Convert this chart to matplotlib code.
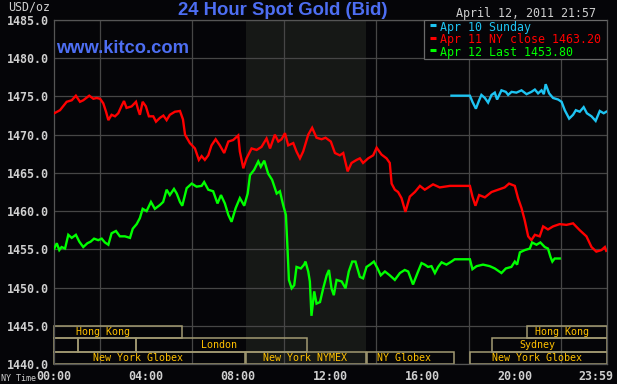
import matplotlib
matplotlib.use("Agg")
import matplotlib.pyplot as plt
from matplotlib.patches import Rectangle
from matplotlib.lines import Line2D

# ---------------- data (hours since 00:00 NY time, USD/oz) ----------------
red_t = [0.01, 0.26, 0.55, 0.77, 0.95, 1.13, 1.27, 1.53, 1.71, 1.85, 2.00, 2.14, 2.26, 2.36,
         2.50, 2.65, 2.79, 2.94, 3.04, 3.15, 3.37, 3.56, 3.66, 3.73, 3.85, 3.99, 4.12, 4.31,
         4.43, 4.60, 4.75, 4.89, 5.03, 5.25, 5.47, 5.60, 5.69, 5.90, 6.12, 6.29, 6.41, 6.55,
         6.70, 6.84, 7.02, 7.20, 7.39, 7.57, 7.78, 8.00, 8.07, 8.22, 8.36, 8.58, 8.80, 9.01,
         9.23, 9.38, 9.59, 9.74, 9.88, 10.03, 10.17, 10.39, 10.53, 10.68, 10.82, 11.04, 11.21,
         11.40, 11.62, 11.79, 12.02, 12.20, 12.41, 12.56, 12.75, 12.92, 13.14, 13.28, 13.42,
         13.64, 13.86, 14.01, 14.22, 14.44, 14.58, 14.66, 14.80, 14.94, 15.09, 15.26, 15.45,
         15.67, 15.89, 16.10, 16.46, 16.75, 17.19, 18.06, 18.17, 18.30, 18.46, 18.71, 19.00,
         19.28, 19.57, 19.76, 20.01, 20.15, 20.30, 20.44, 20.59, 20.73, 20.88, 21.09, 21.24,
         21.45, 21.67, 21.96, 22.25, 22.54, 22.83, 23.12, 23.34, 23.55, 23.77, 23.92, 23.98]
red_v = [1472.8, 1473.2, 1474.3, 1474.5, 1475.1, 1474.3, 1474.5, 1475.1, 1474.7, 1474.8, 1474.7,
         1474.1, 1473.0, 1471.9, 1472.6, 1472.4, 1472.8, 1473.8, 1474.4, 1473.5, 1473.7, 1474.3,
         1473.2, 1472.6, 1474.3, 1473.7, 1472.4, 1472.4, 1471.7, 1472.2, 1472.5, 1471.9, 1472.6,
         1473.0, 1473.1, 1472.0, 1470.0, 1468.9, 1468.2, 1466.7, 1467.2, 1466.7, 1467.3, 1468.6,
         1469.4, 1468.6, 1467.6, 1469.1, 1469.3, 1469.9, 1467.8, 1465.6, 1466.9, 1468.2, 1468.0,
         1468.4, 1469.5, 1468.2, 1470.0, 1469.1, 1469.4, 1470.2, 1468.6, 1468.9, 1467.8, 1466.9,
         1467.8, 1470.0, 1470.9, 1469.6, 1469.4, 1469.6, 1469.1, 1467.6, 1467.3, 1467.6, 1465.2,
         1466.3, 1466.7, 1466.9, 1466.3, 1466.9, 1467.3, 1468.3, 1467.4, 1466.9, 1466.3, 1463.6,
         1462.8, 1462.5, 1461.7, 1459.9, 1461.9, 1462.5, 1463.3, 1462.8, 1463.5, 1463.1, 1463.3,
         1463.3, 1461.9, 1460.7, 1462.1, 1461.8, 1462.5, 1462.8, 1463.1, 1463.6, 1463.3, 1461.7,
         1460.4, 1458.8, 1456.7, 1456.2, 1456.9, 1456.7, 1458.0, 1457.6, 1458.0, 1458.3, 1458.2,
         1458.4, 1457.5, 1456.7, 1455.3, 1454.7, 1454.9, 1455.3, 1454.8]

green_t = [0.01, 0.12, 0.23, 0.33, 0.48, 0.62, 0.77, 0.95, 1.10, 1.27, 1.45, 1.59, 1.74, 1.92,
           2.07, 2.21, 2.36, 2.50, 2.69, 2.86, 3.08, 3.30, 3.42, 3.59, 3.73, 3.85, 4.02, 4.21,
           4.38, 4.60, 4.74, 4.89, 5.03, 5.21, 5.33, 5.47, 5.57, 5.76, 5.98, 6.19, 6.41, 6.52,
           6.70, 6.91, 7.10, 7.25, 7.42, 7.57, 7.71, 7.89, 8.07, 8.26, 8.41, 8.51, 8.69, 8.87,
           8.98, 9.13, 9.30, 9.47, 9.67, 9.81, 9.95, 10.07, 10.14, 10.20, 10.32, 10.43, 10.53,
           10.72, 10.86, 10.92, 11.04, 11.11, 11.18, 11.30, 11.40, 11.55, 11.69, 11.84, 11.94,
           12.05, 12.15, 12.27, 12.49, 12.66, 12.80, 12.95, 13.09, 13.28, 13.42, 13.57, 13.72,
           13.89, 14.05, 14.19, 14.37, 14.58, 14.80, 15.02, 15.23, 15.38, 15.59, 15.81, 15.96,
           16.10, 16.24, 16.39, 16.54, 16.68, 16.83, 17.04, 17.26, 17.40, 18.06, 18.17, 18.35,
           18.63, 18.92, 19.14, 19.43, 19.62, 19.86, 20.01, 20.11, 20.23, 20.44, 20.66, 20.76,
           20.95, 21.12, 21.31, 21.45, 21.56, 21.64, 21.74, 21.96]
green_v = [1455.1, 1455.8, 1454.9, 1455.3, 1455.1, 1456.9, 1456.5, 1456.9, 1456.0, 1455.3, 1455.8,
           1456.0, 1456.4, 1456.2, 1456.4, 1455.9, 1455.6, 1457.1, 1457.4, 1456.7, 1456.7, 1456.5,
           1457.7, 1458.3, 1459.1, 1460.3, 1460.0, 1461.2, 1460.3, 1460.8, 1461.2, 1462.8, 1462.1,
           1462.9, 1462.3, 1461.2, 1460.7, 1463.0, 1463.6, 1463.2, 1463.3, 1463.8, 1462.8, 1462.6,
           1461.0, 1462.1, 1461.0, 1459.5, 1458.6, 1460.4, 1461.7, 1460.7, 1462.3, 1464.7, 1465.4,
           1466.5, 1465.8, 1466.6, 1464.9, 1464.1, 1462.3, 1462.6, 1460.8, 1459.5, 1455.1, 1451.0,
           1449.9, 1450.3, 1452.7, 1452.5, 1453.0, 1453.4, 1452.1, 1450.8, 1446.3, 1449.5, 1447.9,
           1448.1, 1449.9, 1451.6, 1452.3, 1449.9, 1449.0, 1451.0, 1450.8, 1449.9, 1452.1, 1453.4,
           1453.4, 1451.4, 1451.2, 1452.7, 1453.0, 1453.4, 1452.5, 1451.6, 1452.1, 1451.6, 1451.0,
           1451.9, 1452.3, 1452.1, 1450.4, 1452.1, 1453.2, 1453.0, 1452.7, 1452.8, 1451.9, 1452.7,
           1453.3, 1453.0, 1453.4, 1453.7, 1453.7, 1452.4, 1452.8, 1453.0, 1452.8, 1452.5, 1451.9,
           1452.5, 1452.7, 1453.4, 1453.0, 1454.6, 1454.9, 1455.1, 1455.9, 1455.6, 1455.9, 1455.3,
           1455.1, 1454.0, 1453.4, 1453.8, 1453.8]

cyan_t = [17.26, 18.06, 18.17, 18.32, 18.46, 18.56, 18.71, 18.85, 19.00, 19.14, 19.24, 19.43,
          19.62, 19.72, 19.87, 20.08, 20.30, 20.52, 20.73, 20.88, 21.02, 21.17, 21.27, 21.35,
          21.50, 21.67, 21.89, 22.04, 22.18, 22.37, 22.54, 22.66, 22.83, 23.00, 23.14, 23.34,
          23.52, 23.70, 23.87, 23.98]
cyan_v = [1475.1, 1475.1, 1474.3, 1473.4, 1474.5, 1475.2, 1474.8, 1474.2, 1475.2, 1475.5, 1474.6,
          1475.8, 1475.6, 1475.2, 1475.6, 1475.5, 1475.8, 1475.3, 1475.6, 1475.9, 1475.4, 1475.8,
          1475.3, 1476.6, 1475.4, 1474.8, 1474.6, 1474.3, 1473.2, 1472.1, 1472.6, 1473.2, 1473.0,
          1473.6, 1472.8, 1472.4, 1471.8, 1473.1, 1472.8, 1473.0]

series_labels = ["Apr 10 Sunday", "Apr 11 NY close 1463.20", "Apr 12 Last 1453.80"]

y_ticks = [1440, 1445, 1450, 1455, 1460, 1465, 1470, 1475, 1480, 1485]
x_tick_labels = ["00:00", "04:00", "08:00", "12:00", "16:00", "20:00", "23:59"]
x_tick_hours = [0, 4, 8, 12, 16, 20, 23.55]
grid_hours = list(range(0, 25, 2))

nymex_floor = (8.333, 13.55)

# trading sessions: (row, start hour, end hour, label, label centre hour)
session_row = [0, 0, 1, 1, 1, 1, 2, 2, 2, 2]
session_start = [0.0, 20.54, 0.0, 1.03, 3.55, 19.02, 0.0, 8.33, 13.57, 18.07]
session_end = [5.54, 24.0, 1.03, 3.55, 10.99, 24.0, 8.29, 13.53, 17.37, 24.0]
session_label = ["Hong Kong", "Hong Kong", "", "", "London", "Sydney",
                 "New York Globex", "New York NYMEX", "NY Globex", "New York Globex"]
session_label_at = [2.14, 22.06, 0.5, 2.3, 7.18, 20.98, 3.66, 10.89, 15.2, 20.97]
row_bounds = [(1443.36, 1445.0), (1441.61, 1443.36), (1440.0, 1441.61)]

# ---------------- style ----------------
BG = "#050508"
GRID = "#464646"
TXT = "#cfcfcf"
MONO = "DejaVu Sans Mono"
SANS = "Liberation Sans"
BLUE = "#4d6ef2"
colors = ["#1ec4f2", "#ff0000", "#00ff00"]
W, H = 617, 384

def fx(px):
    return px / W

def fy(py):
    return 1 - py / H

fig = plt.figure(figsize=(W / 100, H / 100), dpi=100, facecolor=BG)
ax = fig.add_axes([fx(54), fy(364), (606.7 - 54) / W, 344 / H])
ax.set_facecolor(BG)
ax.set_xlim(0, 24)
ax.set_ylim(1440, 1485)

ax.axvspan(*nymex_floor, color="#161816", zorder=0, lw=0)

ax.set_xticks(grid_hours, minor=True)
ax.set_yticks(y_ticks)
ax.set_yticklabels([f"{v:.1f}" for v in y_ticks])
ax.set_xticks(x_tick_hours)
ax.set_xticklabels(x_tick_labels)
ax.grid(True, which="minor", axis="x", color=GRID, lw=0.9, zorder=1)
ax.grid(True, which="major", axis="y", color=GRID, lw=0.9, zorder=1)
ax.grid(False, which="major", axis="x")
ax.tick_params(which="both", length=0)
ax.tick_params(axis="y", pad=3.4, labelcolor=TXT, labelsize=8.4)
ax.tick_params(axis="x", pad=4.0, labelcolor=TXT, labelsize=8.4)
for lbl in ax.get_xticklabels() + ax.get_yticklabels():
    lbl.set_fontfamily(MONO)
    lbl.set_fontweight("bold")
for s in ax.spines.values():
    s.set_color("#555555")
    s.set_linewidth(0.9)

# sessions
for r, a, b, name, at in zip(session_row, session_start, session_end, session_label, session_label_at):
    lo, hi = row_bounds[r]
    ax.add_patch(Rectangle((a, lo), b - a, hi - lo, facecolor="none",
                           edgecolor="#a29a72", lw=1.1, zorder=2, clip_on=False))
    if name:
        ax.text(at, (lo + hi) / 2, name, ha="center", va="center", color="#ffc000",
                fontsize=7.2, family=MONO, zorder=3)

# series
for t, v, c in [(cyan_t, cyan_v, colors[0]), (red_t, red_v, colors[1]), (green_t, green_v, colors[2])]:
    ax.plot(t, v, color=c, lw=1.7, zorder=4, solid_joinstyle="miter")

# legend box
ax.add_patch(Rectangle((fx(424), fy(59.3)), fx(606.7) - fx(424), fy(20) - fy(59.3),
                       transform=fig.transFigure, facecolor=BG, edgecolor="#6a6a6a",
                       lw=0.9, zorder=6))
for i, (lab, c) in enumerate(zip(series_labels, colors)):
    base = 30.7 + i * 12.65
    fig.add_artist(Line2D([fx(430), fx(436)], [fy(base - 5.7)] * 2, color=c, lw=2.2,
                          solid_capstyle="butt", zorder=7))
    fig.text(fx(440), fy(base), lab, color=c, fontsize=8.4, family=MONO,
             va="baseline", ha="left", zorder=7)

# header texts
fig.text(fx(283), fy(15), "24 Hour Spot Gold (Bid)", color=BLUE, fontsize=13.3,
         family=SANS, fontweight="bold", ha="center", va="baseline")
fig.text(fx(56), fy(53.3), "www.kitco.com", color=BLUE, fontsize=13.2,
         family=SANS, fontweight="bold", ha="left", va="baseline")
fig.text(fx(596), fy(17), "April 12, 2011 21:57", color=TXT, fontsize=8.4,
         family=MONO, ha="right", va="baseline")
fig.text(fx(50), fy(10), "USD/oz", color=TXT, fontsize=8.4, family=MONO,
         ha="right", va="baseline")
fig.text(fx(1), fy(381), "NY Time", color=TXT, fontsize=6.0, family=MONO,
         ha="left", va="baseline")

fig.savefig("out.png", dpi=100, facecolor=BG)
